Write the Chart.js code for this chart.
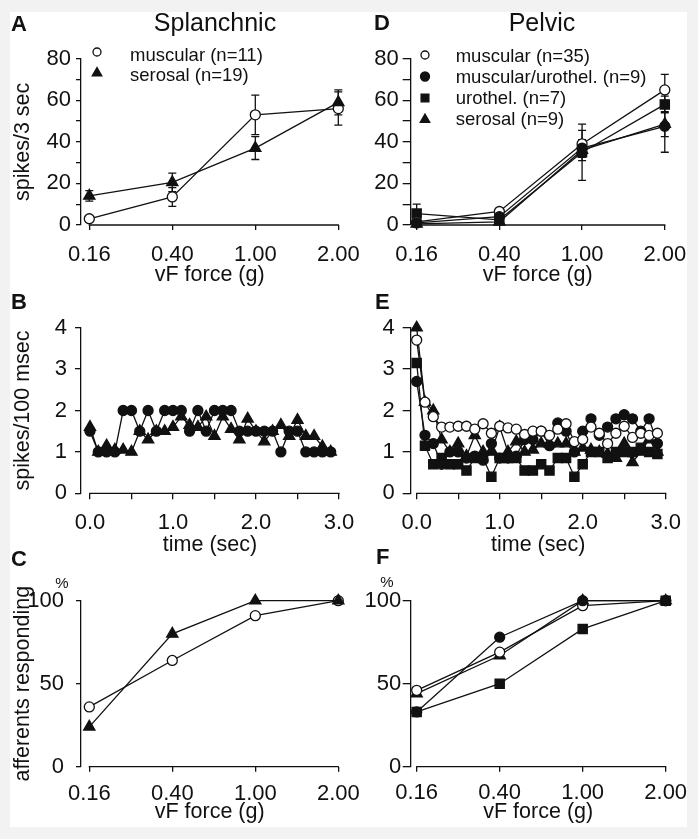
<!DOCTYPE html>
<html>
<head>
<meta charset="utf-8">
<script src="https://cdn.jsdelivr.net/npm/chart.js@4.4.1/dist/chart.umd.min.js"></script>
<style>
  html, body { margin: 0; padding: 0; background: #f2f2f2; }
  #fig { position: relative; width: 698px; height: 839px; background: #f2f2f2;
         font-family: "Liberation Sans", Arial, sans-serif; color: #111; }
  #sheet { position: absolute; left: 10px; top: 12px; width: 677px; height: 815px; background: #fff; }
  .panel { position: absolute; }
  .panel canvas { display: block; }
  .lbl { position: absolute; white-space: nowrap; line-height: 1; }
  .letter { font-weight: bold; font-size: 22px; }
  .head { font-size: 25px; width: 200px; text-align: center; }
  .pct { font-size: 15px; width: 20px; text-align: center; }
</style>
</head>
<body>
<div id="fig">
  <div id="sheet"></div>
  <div class="panel" id="pA"><canvas id="cA"></canvas></div>
  <div class="panel" id="pB"><canvas id="cB"></canvas></div>
  <div class="panel" id="pC"><canvas id="cC"></canvas></div>
  <div class="panel" id="pD"><canvas id="cD"></canvas></div>
  <div class="panel" id="pE"><canvas id="cE"></canvas></div>
  <div class="panel" id="pF"><canvas id="cF"></canvas></div>

  <div class="lbl letter" style="left:11px;top:13px">A</div>
  <div class="lbl letter" style="left:374px;top:12px">D</div>
  <div class="lbl letter" style="left:11px;top:291px">B</div>
  <div class="lbl letter" style="left:375px;top:291px">E</div>
  <div class="lbl letter" style="left:11px;top:548px">C</div>
  <div class="lbl letter" style="left:376px;top:546px">F</div>
  <div class="lbl head" style="left:115px;top:10px">Splanchnic</div>
  <div class="lbl head" style="left:442px;top:10px">Pelvic</div>
  <div class="lbl pct" style="left:52px;top:575px">%</div>
  <div class="lbl pct" style="left:377px;top:574px">%</div>
</div>

<script>
// vF force categories (plotted at index positions)
const forceLabels = ['0.16', '0.40', '1.00', '2.00'];
const forceIdx = [0, 1, 2, 3];

// A - splanchnic, spikes/3 sec (mean, error)
const splMuscular = [3, 13.5, 53, 56];
const splMuscularErr = [1, 4.5, 9.5, 8];
const splSerosal = [14, 20.5, 37, 59];
const splSerosalErr = [2.5, 4.5, 5.5, 6];

// D - pelvic, spikes/3 sec
const pelMuscular = [1.5, 6.5, 39, 65];
const pelMuscularErr = [1, 1.5, 6.5, 7.5];
const pelMuscUro = [1, 4, 37, 47.5];
const pelMuscUroErr = [0.5, 1, 4, 12.5];
const pelUro = [5.5, 2.5, 35, 58];
const pelUroErr = [4.5, 1, 13.5, 4];
const pelSerosal = [0.5, 1.5, 36, 48.5];
const pelSerosalErr = [0.5, 1, 5, 6];

// B / E - spikes/100 msec over time
const timeSec = [0.0, 0.1, 0.2, 0.3, 0.4, 0.5, 0.6, 0.7, 0.8, 0.9,
                 1.0, 1.1, 1.2, 1.3, 1.4, 1.5, 1.6, 1.7, 1.8, 1.9,
                 2.0, 2.1, 2.2, 2.3, 2.4, 2.5, 2.6, 2.7, 2.8, 2.9];
const timeTicks = [0, 0.5, 1, 1.5, 2, 2.5, 3];

const splRateMusc = [1.5, 1, 1, 1, 2, 2, 1.5, 2, 1.5, 2,
                     2, 2, 1.5, 2, 1.5, 2, 2, 2, 1.5, 1.5,
                     1.5, 1.5, 1.5, 1, 1.5, 1.5, 1, 1, 1, 1];
const splRateSer = [1.6, 1, 1.15, 1.05, 1.05, 1, 1.5, 1.3, 1.5, 1.5,
                    1.6, 1.85, 1.65, 1.6, 1.85, 1.38, 1.85, 1.55, 1.3, 1.8,
                    1.5, 1.25, 1.5, 1.65, 1.38, 1.77, 1.38, 1.38, 1.13, 1];

const pelRateMusc = [3.7, 2.2, 1.85, 1.6, 1.6, 1.62, 1.62, 1.55, 1.68, 1.45,
                     1.62, 1.58, 1.55, 1.42, 1.5, 1.5, 1.4, 1.55, 1.68, 1.25,
                     1.3, 1.6, 1.45, 1.2, 1.45, 1.62, 1.35, 1.45, 1.4, 1.45];
const pelRateMuscUro = [2.7, 1.4, 1.2, 0.7, 1.0, 1.0, 0.85, 0.9, 0.8, 1.2,
                        0.85, 0.85, 0.9, 1.3, 1.3, 1.5, 1.15, 1.7, 1.5, 1.0,
                        1.5, 1.8, 1.4, 1.6, 1.8, 1.9, 1.8, 1.5, 1.8, 1.2];
const pelRateUro = [3.15, 1.15, 0.7, 0.85, 0.7, 0.7, 0.55, 0.85, 0.85, 0.4,
                    0.85, 0.85, 0.85, 0.55, 0.55, 0.7, 0.55, 0.85, 0.85, 0.4,
                    0.7, 1.0, 1.0, 0.85, 1.0, 1.0, 1.0, 1.1, 1.0, 0.95];
const pelRateSer = [4.0, 2.2, 2.0, 1.3, 1.0, 1.2, 0.9, 1.4, 1.0, 1.0,
                    1.6, 1.0, 1.25, 1.0, 1.05, 1.2, 1.2, 1.2, 1.2, 1.0,
                    1.1, 1.05, 1.0, 0.95, 0.85, 1.2, 0.75, 1.0, 1.3, 1.0];

// C / F - % afferents responding
const respSplMusc = [36, 64, 91, 100];
const respSplSer = [24, 80, 100, 100];
const respPelMusc = [46, 69, 97, 100];
const respPelMuscUro = [33, 78, 100, 100];
const respPelUro = [33, 50, 83, 100];
const respPelSer = [44, 67, 100, 100];

const ink = '#111';
const fontFamily = '"Liberation Sans", Arial, sans-serif';
const axisFont = { family: fontFamily, size: 22, lineHeight: 1.2 };
const titleFont = { family: fontFamily, size: 21.5, lineHeight: 1.2 };
const radius = { open: 5, filled: 5, triangle: 6.5, rect: 6.5 };
const keyRadius = { open: 4, filled: 4.5, triangle: 5.5, rect: 5.5 };

function series(label, xs, ys, kind, errors, order) {
  return {
    label,
    kind,
    errors,
    order: order || 0,
    data: xs.map((x, i) => ({ x, y: ys[i] })),
    showLine: true,
    tension: 0,
    fill: false,
    clip: false,
    borderColor: ink,
    borderWidth: 1.3,
    pointStyle: (kind === 'open' || kind === 'filled') ? 'circle' : kind,
    pointRadius: radius[kind],
    pointHoverRadius: radius[kind],
    pointBackgroundColor: kind === 'open' ? '#fff' : ink,
    pointBorderColor: ink,
    pointBorderWidth: 1.3
  };
}

function drawMarker(ctx, kind, x, y, r) {
  ctx.beginPath();
  if (kind === 'triangle') {
    for (let k = 0; k < 3; k++) {
      const a = k * 2 * Math.PI / 3;
      const px = x + Math.sin(a) * r, py = y - Math.cos(a) * r;
      if (k === 0) ctx.moveTo(px, py); else ctx.lineTo(px, py);
    }
    ctx.closePath();
  } else if (kind === 'rect') {
    const s = r * Math.SQRT1_2;
    ctx.rect(x - s, y - s, 2 * s, 2 * s);
  } else {
    ctx.arc(x, y, r, 0, Math.PI * 2);
  }
  ctx.fillStyle = kind === 'open' ? '#fff' : ink;
  ctx.strokeStyle = ink;
  ctx.lineWidth = 1.3;
  ctx.fill();
  ctx.stroke();
}

const errorBars = {
  id: 'errorBars',
  beforeDatasetsDraw(chart) {
    const { ctx, scales: { x, y } } = chart;
    ctx.save();
    ctx.strokeStyle = ink;
    ctx.lineWidth = 1.3;
    chart.data.datasets.forEach(ds => {
      if (!ds.errors) return;
      ds.data.forEach((pt, i) => {
        const e = ds.errors[i];
        if (!e) return;
        const px = x.getPixelForValue(pt.x);
        const y1 = y.getPixelForValue(pt.y + e);
        const y2 = y.getPixelForValue(pt.y - e);
        ctx.beginPath();
        ctx.moveTo(px, y1); ctx.lineTo(px, y2);
        ctx.moveTo(px - 4, y1); ctx.lineTo(px + 4, y1);
        ctx.moveTo(px - 4, y2); ctx.lineTo(px + 4, y2);
        ctx.stroke();
      });
    });
    ctx.restore();
  }
};

// x axis line only between first and last tick (offset axes)
const xAxisLine = {
  id: 'xAxisLine',
  beforeDatasetsDraw(chart) {
    const { ctx, chartArea, scales: { x } } = chart;
    const t = x.ticks;
    const a = x.getPixelForValue(t[0].value);
    const b = x.getPixelForValue(t[t.length - 1].value);
    ctx.save();
    ctx.strokeStyle = ink;
    ctx.lineWidth = 1.3;
    ctx.beginPath();
    ctx.moveTo(a - 0.6, chartArea.bottom);
    ctx.lineTo(b + 0.6, chartArea.bottom);
    ctx.stroke();
    ctx.restore();
  }
};

const markerKey = {
  id: 'markerKey',
  afterDraw(chart, args, opts) {
    if (!opts || !opts.rows) return;
    const ctx = chart.ctx;
    ctx.save();
    chart.data.datasets.forEach((ds, i) => {
      const row = opts.rows[i];
      drawMarker(ctx, ds.kind, opts.mx, row[0], keyRadius[ds.kind]);
      ctx.fillStyle = ink;
      ctx.font = '18.5px ' + fontFamily;
      ctx.textBaseline = 'middle';
      ctx.textAlign = 'left';
      ctx.fillText(ds.label, opts.tx, row[1]);
    });
    ctx.restore();
  }
};

function makePanel(id, p) {
  const W = p.box.w, H = p.box.h;
  const left = p.area.l - p.box.x;
  const right = p.area.r - p.box.x;
  const top = p.area.t - p.box.y;
  const bottom = p.area.b - p.box.y;
  const holder = document.getElementById('p' + id);
  holder.style.left = p.box.x + 'px';
  holder.style.top = p.box.y + 'px';
  const canvas = document.getElementById('c' + id);
  canvas.width = W;
  canvas.height = H;

  return new Chart(canvas, {
    type: 'line',
    data: { datasets: p.datasets },
    options: {
      responsive: false,
      animation: false,
      devicePixelRatio: 1,
      events: [],
      layout: { padding: { left: 0, top: top, right: W - right, bottom: 0 } },
      plugins: {
        legend: { display: false },
        tooltip: { enabled: false },
        markerKey: p.key || false
      },
      scales: {
        x: {
          type: 'linear',
          min: p.xMin,
          max: p.xMax,
          afterFit: s => { s.height = H - bottom; },
          afterBuildTicks: s => { s.ticks = p.xTicks.map(v => ({ value: v })); },
          ticks: {
            callback: p.xFmt, font: axisFont, color: ink, padding: p.xPad,
            autoSkip: false, maxRotation: 0, minRotation: 0
          },
          grid: { drawOnChartArea: false, tickLength: p.xTick, color: ink, lineWidth: 1.3 },
          border: { display: false },
          title: {
            display: true, text: p.xTitle, font: titleFont, color: ink,
            padding: { top: 0, bottom: p.xTitlePad }
          }
        },
        y: {
          type: 'linear',
          min: p.yMin,
          max: p.yMax,
          afterFit: s => { s.width = left; },
          afterBuildTicks: s => { s.ticks = p.yTicks.map(v => ({ value: v })); },
          ticks: {
            callback: v => (p.yLabels.includes(v) ? String(v) : ''),
            font: axisFont, color: ink, padding: p.yPad, autoSkip: false
          },
          grid: { drawOnChartArea: false, tickLength: p.yTick, color: ink, lineWidth: 1.3 },
          border: { display: true, color: ink, width: 1.3 },
          title: {
            display: !!p.yTitle, text: p.yTitle || '', font: titleFont, color: ink,
            padding: { top: p.yTitlePad || 0, bottom: 0 }
          }
        }
      }
    },
    plugins: [errorBars, xAxisLine, markerKey]
  });
}

const forceFmt = v => forceLabels[v] ?? '';
const timeFmt = v => (Number.isInteger(v) ? v.toFixed(1) : '');
const spikeTicks = [0, 10, 20, 30, 40, 50, 60, 70, 80];
const spikeLabels = [0, 20, 40, 60, 80];
const rateTicks = [0, 1, 2, 3, 4];
const pctTicks = [0, 50, 100];

// A
makePanel('A', {
  box: { x: 0, y: 0, w: 380, h: 300 },
  area: { l: 81, r: 338.3, t: 58.7, b: 225 },
  xMin: -0.1, xMax: 3, xTicks: forceIdx, xFmt: forceFmt, xPad: 11.8, xTick: 5,
  xTitle: 'vF force (g)', xTitlePad: 12.4,
  yMin: 0, yMax: 80, yTicks: spikeTicks, yLabels: spikeLabels, yPad: 5, yTick: 5,
  yTitle: 'spikes/3 sec', yTitlePad: 10.4,
  key: { mx: 97, tx: 130, rows: [[52, 56], [73, 76]] },
  datasets: [
    series('muscular (n=11)', forceIdx, splMuscular, 'open', splMuscularErr),
    series('serosal (n=19)', forceIdx, splSerosal, 'triangle', splSerosalErr, -1)
  ]
});

// B
makePanel('B', {
  box: { x: 0, y: 290, w: 380, h: 290 },
  area: { l: 81, r: 339, t: 327.7, b: 493.3 },
  xMin: -0.108, xMax: 3, xTicks: timeTicks, xFmt: timeFmt, xPad: 10, xTick: 6,
  xTitle: 'time (sec)', xTitlePad: 22.4,
  yMin: 0, yMax: 4, yTicks: rateTicks, yLabels: rateTicks, yPad: 8, yTick: 6,
  yTitle: 'spikes/100 msec', yTitlePad: 10.4,
  datasets: [
    series('muscular', timeSec, splRateMusc, 'filled'),
    series('serosal', timeSec, splRateSer, 'triangle')
  ]
});

// C
makePanel('C', {
  box: { x: 0, y: 560, w: 380, h: 279 },
  area: { l: 81, r: 338.3, t: 600.7, b: 766.7 },
  xMin: -0.1, xMax: 3, xTicks: forceIdx, xFmt: forceFmt, xPad: 9.1, xTick: 5,
  xTitle: 'vF force (g)', xTitlePad: 14.4,
  yMin: 0, yMax: 100, yTicks: pctTicks, yLabels: pctTicks, yPad: 12, yTick: 5,
  yTitle: 'afferents responding', yTitlePad: 10.4,
  datasets: [
    series('muscular', forceIdx, respSplMusc, 'open'),
    series('serosal', forceIdx, respSplSer, 'triangle', null, -1)
  ]
});

// D
makePanel('D', {
  box: { x: 335, y: 0, w: 363, h: 300 },
  area: { l: 410.7, r: 665.7, t: 58.7, b: 225 },
  xMin: -0.072, xMax: 3, xTicks: forceIdx, xFmt: forceFmt, xPad: 11.8, xTick: 5,
  xTitle: 'vF force (g)', xTitlePad: 12.4,
  yMin: 0, yMax: 80, yTicks: spikeTicks, yLabels: spikeLabels, yPad: 4, yTick: 8,
  key: { mx: 90, tx: 120.7, rows: [[55, 56.5], [76.5, 77.5], [98, 99], [119.5, 120]] },
  datasets: [
    series('muscular (n=35)', forceIdx, pelMuscular, 'open', pelMuscularErr),
    series('muscular/urothel. (n=9)', forceIdx, pelMuscUro, 'filled', pelMuscUroErr, -1),
    series('urothel. (n=7)', forceIdx, pelUro, 'rect', pelUroErr),
    series('serosal (n=9)', forceIdx, pelSerosal, 'triangle', pelSerosalErr)
  ]
});

// E
makePanel('E', {
  box: { x: 335, y: 290, w: 363, h: 290 },
  area: { l: 410.7, r: 665.7, t: 327.7, b: 493.3 },
  xMin: -0.072, xMax: 3, xTicks: timeTicks, xFmt: timeFmt, xPad: 10.4, xTick: 6,
  xTitle: 'time (sec)', xTitlePad: 22.4,
  yMin: 0, yMax: 4, yTicks: rateTicks, yLabels: rateTicks, yPad: 8, yTick: 8,
  datasets: [
    series('muscular', timeSec, pelRateMusc, 'open'),
    series('muscular/urothel.', timeSec, pelRateMuscUro, 'filled'),
    series('urothel.', timeSec, pelRateUro, 'rect'),
    series('serosal', timeSec, pelRateSer, 'triangle')
  ]
});

// F
makePanel('F', {
  box: { x: 335, y: 560, w: 363, h: 279 },
  area: { l: 410.7, r: 665.7, t: 600.7, b: 766.7 },
  xMin: -0.072, xMax: 3, xTicks: forceIdx, xFmt: forceFmt, xPad: 8.4, xTick: 5,
  xTitle: 'vF force (g)', xTitlePad: 14.4,
  yMin: 0, yMax: 100, yTicks: pctTicks, yLabels: pctTicks, yPad: 1.5, yTick: 8,
  datasets: [
    series('muscular', forceIdx, respPelMusc, 'open'),
    series('muscular/urothel.', forceIdx, respPelMuscUro, 'filled', null, -1),
    series('urothel.', forceIdx, respPelUro, 'rect'),
    series('serosal', forceIdx, respPelSer, 'triangle')
  ]
});
</script>
</body>
</html>
